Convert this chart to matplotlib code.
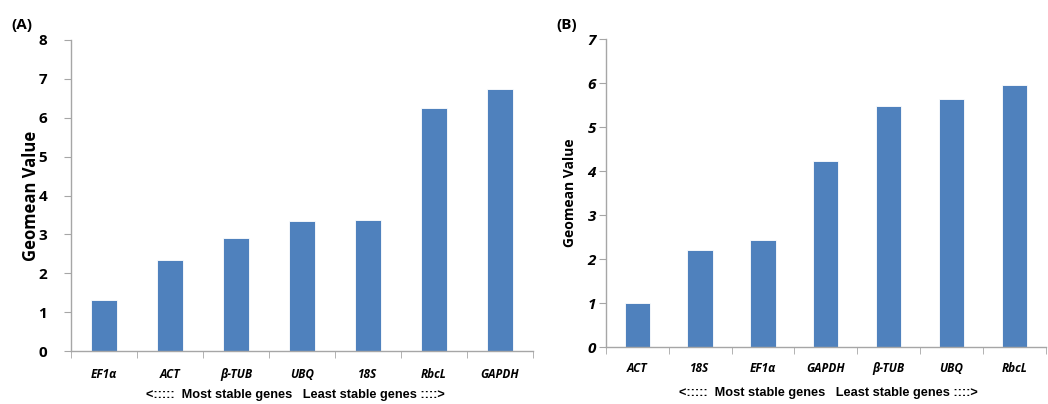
import numpy as np
import matplotlib
matplotlib.use("Agg")
import matplotlib.pyplot as plt
from matplotlib.ticker import FixedLocator

plt.rcParams['font.family'] = ['Open Sans', 'DejaVu Sans']

# === data ===
genes_a = ["EF1α", "ACT", "β-TUB", "UBQ", "18S", "RbcL", "GAPDH"]
geomean_a = [1.31, 2.34, 2.90, 3.34, 3.37, 6.25, 6.74]

genes_b = ["ACT", "18S", "EF1α", "GAPDH", "β-TUB", "UBQ", "RbcL"]
geomean_b = [1.0, 2.20, 2.43, 4.22, 5.47, 5.65, 5.95]

bar_color = "#4F81BD"
axis_color = "#A6A6A6"
footer = "<:::::  Most stable genes   Least stable genes ::::>"

fig = plt.figure(figsize=(10.48, 4.04), dpi=100)


def draw_panel(ax, genes, vals, ymax, ylabel_size, tick_style, lab_pad, ypad, ylx):
    x = np.arange(len(genes))
    ax.bar(x, vals, width=0.4, color=bar_color, edgecolor="white", linewidth=0.6, zorder=2)
    ax.set_xlim(-0.5, len(genes) - 0.5)
    ax.set_ylim(0, ymax)
    ax.set_yticks(range(ymax + 1))
    ax.set_xticks(x)
    ax.set_xticklabels(genes, fontsize=8.5, fontweight="bold", fontstyle="italic")
    ax.xaxis.set_minor_locator(FixedLocator(np.arange(-0.5, len(genes), 1.0)))
    ax.tick_params(axis="x", which="major", length=0, pad=lab_pad)
    ax.tick_params(axis="x", which="minor", length=5, color=axis_color, direction="out")
    ax.tick_params(axis="y", length=5, color=axis_color, direction="out", pad=ypad)
    for t in ax.get_yticklabels():
        t.set_fontsize(11)
        t.set_fontweight("bold")
        t.set_fontstyle(tick_style)
    for s in ["top", "right"]:
        ax.spines[s].set_visible(False)
    for s in ["left", "bottom"]:
        ax.spines[s].set_color(axis_color)
        ax.spines[s].set_linewidth(1.0)
    ax.set_ylabel("Geomean Value", fontsize=ylabel_size, fontweight="bold")
    ax.yaxis.set_label_coords(ylx, 0.5)


ax_a = fig.add_axes([0.0677, 0.131, 0.441, 0.770])
draw_panel(ax_a, genes_a, geomean_a, 8, 12, "normal", 12, 12, -0.066)
fig.text(0.282, 0.008, footer, ha="center", va="bottom", fontsize=9.2, fontweight="bold",
         family=['Liberation Sans', 'DejaVu Sans'])
fig.text(0.011, 0.928, "(A)", fontsize=11, fontweight="bold")

ax_b = fig.add_axes([0.578, 0.141, 0.420, 0.762])
draw_panel(ax_b, genes_b, geomean_b, 7, 10, "italic", 11, 2, -0.066)
fig.text(0.790, 0.013, footer, ha="center", va="bottom", fontsize=9.2, fontweight="bold",
         family=['Liberation Sans', 'DejaVu Sans'])
fig.text(0.531, 0.928, "(B)", fontsize=11, fontweight="bold")

fig.savefig("out.png", dpi=100)
